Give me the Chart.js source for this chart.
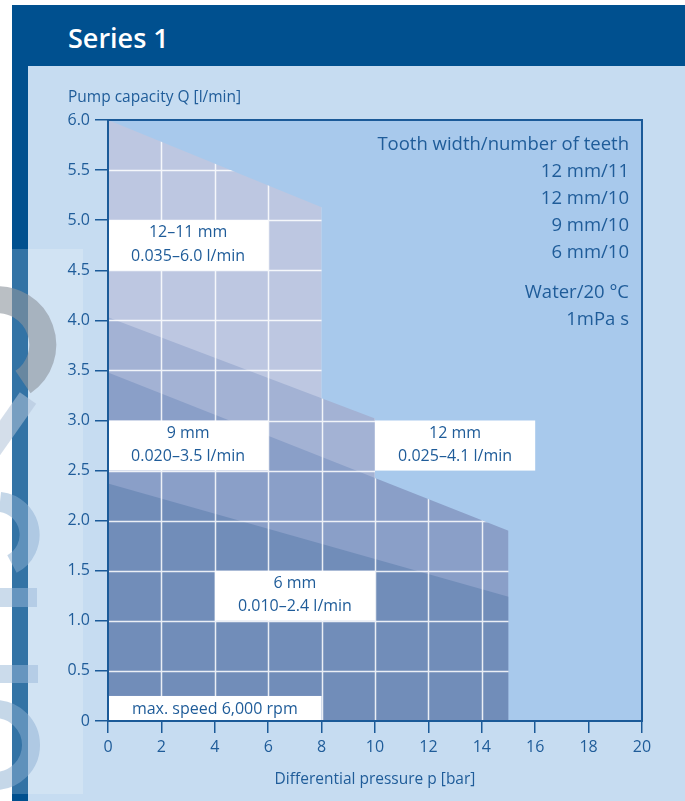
<!DOCTYPE html>
<html>
<head>
<meta charset="utf-8">
<script src="https://cdn.jsdelivr.net/npm/chart.js@4.4.1/dist/chart.umd.min.js"></script>
<style>
html, body { margin: 0; padding: 0; background: #fff; }
#wrap { position: relative; width: 685px; height: 801px; overflow: hidden; }
#bg, #myChart { position: absolute; left: 0; top: 0; }
</style>
</head>
<body>
<div id="wrap">
<svg id="bg" width="685" height="801">
  <rect width="685" height="801" fill="#fff"/>
  <rect x="12" y="5" width="673" height="61" fill="#00508f"/>
  <rect x="12" y="66" width="16" height="735" fill="#00508f"/>
  <rect x="28" y="66" width="657" height="735" fill="#c6dcf1"/>
  <!-- watermark letters on the left edge -->
  <g fill="none">
    <path d="M -7 300 A 45 45 0 0 1 23 382" stroke="#6f7a86" stroke-opacity="0.6" stroke-width="27"/>
    <path d="M 28 398 L -10 452" stroke="#9fb4cf" stroke-opacity="0.55" stroke-width="20"/>
    <path d="M 0 502 A 33 33 0 0 1 12 564" stroke="#6f9cc8" stroke-opacity="0.5" stroke-width="20"/>
    <path d="M -5 709 A 36 36 0 0 1 -5 781" stroke="#6f9cc8" stroke-opacity="0.5" stroke-width="18"/>
  </g>
  <rect x="0" y="588" width="37" height="19" fill="#7fa6cf" fill-opacity="0.5"/>
  <rect x="0" y="665" width="38" height="18" fill="#7fa6cf" fill-opacity="0.5"/>
  <rect x="0" y="249" width="83" height="545" fill="#fff" fill-opacity="0.2"/>
  <text x="68" y="48" fill="#fff" font-family="Open Sans" font-weight="600" font-size="27">Series 1</text>
</svg>
<canvas id="myChart" width="685" height="801"></canvas>
</div>
<script>
Chart.defaults.font.family = "'Open Sans', sans-serif"
Chart.defaults.color = '#1f5c99'

// pressure [bar] and capacity [l/min] for each pump
var p12x11 = [0, 8]
var q12x11 = [6.0, 5.13]
var p12x10 = [0, 10]
var q12x10 = [4.03, 3.02]
var p9x10 = [0, 15]
var q9x10 = [3.48, 1.90]
var p6x10 = [0, 15]
var q6x10 = [2.37, 1.24]

var seriesNames = ['12 mm/11', '12 mm/10', '9 mm/10', '6 mm/10']
var fillColors = ['#bdc7e1', '#a3b2d4', '#8a9fc8', '#718db9']

var xTicks = [0, 2, 4, 6, 8, 10, 12, 14, 16, 18, 20]
var yTicks = [0, 0.5, 1.0, 1.5, 2.0, 2.5, 3.0, 3.5, 4.0, 4.5, 5.0, 5.5, 6.0]

var legendLines = ['Tooth width/number of teeth'].concat(seriesNames)
var mediumLines = ['Water/20 °C', '1mPa s']

// white label boxes, in axis units
var boxes = [
    { x: [0, 6], y: [4.5, 5.0], text: ['12–11 mm', '0.035–6.0 l/min'] },
    { x: [0, 6], y: [2.5, 3.0], text: ['9 mm', '0.020–3.5 l/min'] },
    { x: [10, 16], y: [2.5, 3.0], text: ['12 mm', '0.025–4.1 l/min'] },
    { x: [4, 10], y: [1.0, 1.5], text: ['6 mm', '0.010–2.4 l/min'] },
    { x: [0, 8], y: [0, 0.25], text: ['max. speed 6,000 rpm'] }
]

var axisBlue = '#1b5a98'
var textBlue = '#1f5c99'
var plotBg = '#a8c9ec'

const toPoints = (xs, ys) => xs.map((x, i) => ({ x: x, y: ys[i] }))

var seriesData = [
    toPoints(p12x11, q12x11),
    toPoints(p12x10, q12x10),
    toPoints(p9x10, q9x10),
    toPoints(p6x10, q6x10)
]

const plotBackground = {
    id: 'plotBackground',
    beforeDraw(chart) {
        const a = chart.chartArea
        chart.ctx.save()
        chart.ctx.fillStyle = plotBg
        chart.ctx.fillRect(a.left, a.top, a.right - a.left, a.bottom - a.top)
        chart.ctx.restore()
    }
}

// white grid only inside the filled areas
const areaGrid = {
    id: 'areaGrid',
    afterDatasetsDraw(chart) {
        const ctx = chart.ctx
        const xs = chart.scales.x, ys = chart.scales.y
        const base = ys.getPixelForValue(0)
        ctx.save()
        ctx.beginPath()
        chart.getSortedVisibleDatasetMetas().forEach(meta => {
            const pts = meta.data
            ctx.moveTo(pts[0].x, base)
            pts.forEach(p => ctx.lineTo(p.x, p.y))
            ctx.lineTo(pts[pts.length - 1].x, base)
            ctx.closePath()
        })
        ctx.clip()
        ctx.strokeStyle = 'rgba(255,255,255,0.85)'
        ctx.lineWidth = 1.5
        ctx.beginPath()
        xTicks.slice(1, -1).forEach(v => {
            const x = Math.round(xs.getPixelForValue(v)) + 0.5
            ctx.moveTo(x, chart.chartArea.top)
            ctx.lineTo(x, chart.chartArea.bottom)
        })
        yTicks.slice(1, -1).forEach(v => {
            const y = Math.round(ys.getPixelForValue(v)) + 0.5
            ctx.moveTo(chart.chartArea.left, y)
            ctx.lineTo(chart.chartArea.right, y)
        })
        ctx.stroke()
        ctx.restore()
    }
}

const labelBoxes = {
    id: 'labelBoxes',
    afterDatasetsDraw(chart) {
        const ctx = chart.ctx
        const xs = chart.scales.x, ys = chart.scales.y
        ctx.save()
        boxes.forEach(b => {
            const l = xs.getPixelForValue(b.x[0]), r = xs.getPixelForValue(b.x[1])
            const t = ys.getPixelForValue(b.y[1]), btm = ys.getPixelForValue(b.y[0])
            ctx.fillStyle = '#fff'
            ctx.fillRect(l, t, r - l, btm - t)
            ctx.fillStyle = textBlue
            ctx.font = "16px 'Open Sans'"
            ctx.textAlign = 'center'
            ctx.textBaseline = 'middle'
            const cx = (l + r) / 2
            if (b.text.length == 1) {
                ctx.fillText(b.text[0], cx, (t + btm) / 2 + 1)
            } else {
                ctx.fillText(b.text[0], cx, t + (btm - t) * 0.25)
                ctx.fillText(b.text[1], cx, t + (btm - t) * 0.72)
            }
        })
        ctx.restore()
    }
}

const frameAndText = {
    id: 'frameAndText',
    afterDraw(chart) {
        const ctx = chart.ctx
        const a = chart.chartArea
        ctx.save()
        ctx.strokeStyle = axisBlue
        ctx.lineWidth = 2
        ctx.strokeRect(a.left, a.top, a.right - a.left, a.bottom - a.top)

        ctx.fillStyle = textBlue
        ctx.textBaseline = 'middle'
        ctx.font = "15.5px 'Open Sans'"
        ctx.textAlign = 'left'
        ctx.fillText('Pump capacity Q [l/min]', 68, 98)
        ctx.textAlign = 'center'
        ctx.fillText('Differential pressure p [bar]', (a.left + a.right) / 2, 780)

        ctx.font = "18.5px 'Open Sans'"
        ctx.textAlign = 'right'
        legendLines.forEach((s, i) => ctx.fillText(s, a.right - 13, a.top + 25 + i * 27))
        mediumLines.forEach((s, i) => ctx.fillText(s, a.right - 13, a.top + 173 + i * 27))
        ctx.restore()
    }
}

var chart = new Chart(document.getElementById('myChart'), {
    type: 'line',
    data: {
        datasets: seriesData.map((d, i) => ({
            label: seriesNames[i],
            data: d,
            fill: 'origin',
            backgroundColor: fillColors[i],
            borderWidth: 0,
            pointRadius: 0,
            tension: 0,
            order: 4 - i
        }))
    },
    options: {
        responsive: false,
        animation: false,
        devicePixelRatio: 1,
        layout: { padding: { top: 120, right: 43, left: 0, bottom: 0 } },
        plugins: {
            legend: { display: false },
            tooltip: { enabled: false }
        },
        scales: {
            x: {
                type: 'linear',
                min: 0,
                max: 20,
                afterBuildTicks: s => { s.ticks = xTicks.map(v => ({ value: v })) },
                afterFit: s => { s.height = 80 },
                ticks: { font: { size: 16 }, padding: 5, color: textBlue },
                grid: { drawOnChartArea: false, tickLength: 12, color: axisBlue, lineWidth: 1.5 },
                border: { color: axisBlue, width: 2 }
            },
            y: {
                type: 'linear',
                min: 0,
                max: 6,
                afterBuildTicks: s => { s.ticks = yTicks.map(v => ({ value: v })) },
                afterFit: s => { s.width = 108 },
                ticks: {
                    font: { size: 16 },
                    padding: 5,
                    color: textBlue,
                    callback: v => v == 0 ? '0' : v.toFixed(1)
                },
                grid: { drawOnChartArea: false, tickLength: 13, color: axisBlue, lineWidth: 1.5 },
                border: { color: axisBlue, width: 2 }
            }
        }
    },
    plugins: [plotBackground, areaGrid, labelBoxes, frameAndText]
})
</script>
</body>
</html>
